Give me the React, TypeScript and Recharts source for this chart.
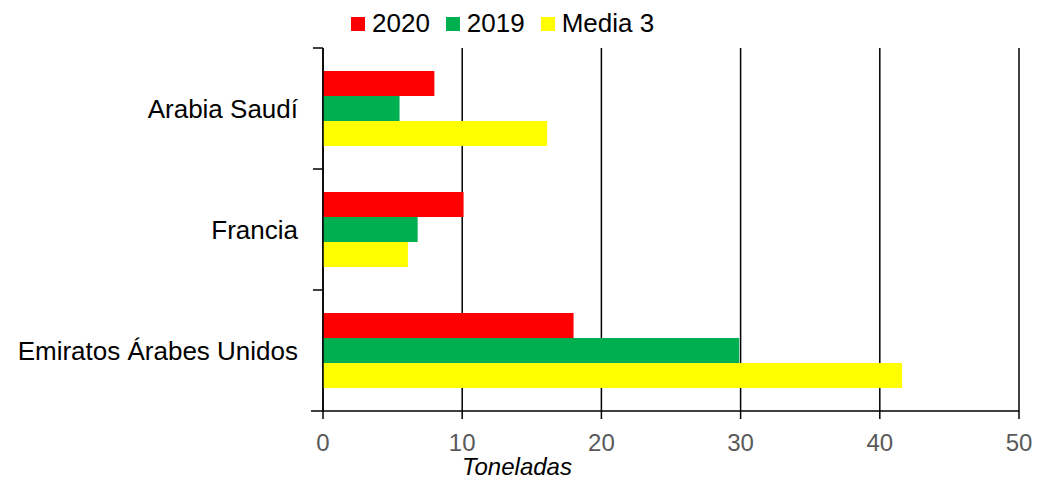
import React from 'react';
import { BarChart, Bar, XAxis, YAxis, CartesianGrid, Legend } from 'recharts';

const categories = ['Arabia Saudí', 'Francia', 'Emiratos Árabes Unidos'];
const values2020 = [8, 10.1, 18];
const values2019 = [5.5, 6.8, 29.9];
const valuesMedia3 = [16.1, 6.1, 41.6];
const xTicks = [0, 10, 20, 30, 40, 50];
const seriesNames = ['2020', '2019', 'Media 3'];
const seriesColors = ['#FF0000', '#00B050', '#FFFF00'];

const data = categories.map((c, i) => ({
  name: c,
  s2020: values2020[i],
  s2019: values2019[i],
  media3: valuesMedia3[i],
}));

const W = 1038;
const H = 479;
const MARGIN = { top: 48, right: 19, bottom: 0, left: 0 };
const Y_W = 323;
const X_H = 68;
const PLOT_H = H - MARGIN.top - MARGIN.bottom - X_H;
const BAND = PLOT_H / categories.length;
const FONT = '"Liberation Sans", Arial, sans-serif';

const YTick = (props: any) => {
  const { x, y, payload, index } = props;
  const axisX = Y_W + MARGIN.left;
  return (
    <g>
      <line x1={axisX - 10} x2={axisX} y1={y - BAND / 2} y2={y - BAND / 2} stroke="#000" strokeWidth={1.5} />
      {index === categories.length - 1 && (
        <line x1={axisX - 12} x2={axisX} y1={y + BAND / 2} y2={y + BAND / 2} stroke="#000" strokeWidth={1.5} />
      )}
      <text x={x} y={y} dy="0.35em" textAnchor="end" fill="#000" fontSize={26} fontFamily={FONT}>
        {payload.value}
      </text>
    </g>
  );
};

const LegendContent = () => (
  <div style={{ display: 'flex', alignItems: 'center', fontFamily: FONT, fontSize: 26, color: '#000', whiteSpace: 'nowrap' }}>
    {seriesNames.map((n, i) => (
      <div key={n} style={{ display: 'flex', alignItems: 'center', marginRight: 16 }}>
        <div style={{ width: 14, height: 14, background: seriesColors[i], marginRight: 7 }} />
        <span>{n}</span>
      </div>
    ))}
  </div>
);

const XLabel = (props: any) => {
  const { viewBox } = props;
  return (
    <text x={viewBox.x + 194} y={475} textAnchor="middle" fontStyle="italic" fontSize={24} fontFamily={FONT} fill="#000">
      Toneladas
    </text>
  );
};

export default function App() {
  return (
    <div style={{ position: 'absolute', left: 0, top: 0, width: W, height: H, background: '#fff' }}>
      <BarChart
        width={W}
        height={H}
        data={data}
        layout="vertical"
        margin={MARGIN}
        barGap={0}
        barCategoryGap="19%"
      >
        <CartesianGrid horizontal={false} vertical stroke="#000" strokeWidth={1.5} />
        <XAxis
          type="number"
          domain={[0, 50]}
          ticks={xTicks}
          height={X_H}
          interval={0}
          stroke="#000"
          strokeWidth={1.5}
          tickSize={8}
          tickMargin={15}
          tick={{ fill: '#595959', fontSize: 24, fontFamily: FONT }}
          label={<XLabel />}
        />
        <YAxis
          type="category"
          dataKey="name"
          width={Y_W}
          stroke="#000"
          strokeWidth={1.5}
          tickLine={false}
          tickSize={0}
          tickMargin={25}
          interval={0}
          tick={<YTick />}
        />
        <Legend
          layout="vertical"
          align="center"
          verticalAlign="top"
          content={<LegendContent />}
          wrapperStyle={{ top: 8, left: 351, width: 'auto', height: 0, overflow: 'visible' }}
        />
        <Bar dataKey="s2020" name={seriesNames[0]} fill={seriesColors[0]} barSize={25} isAnimationActive={false} />
        <Bar dataKey="s2019" name={seriesNames[1]} fill={seriesColors[1]} barSize={25} isAnimationActive={false} />
        <Bar dataKey="media3" name={seriesNames[2]} fill={seriesColors[2]} barSize={25} isAnimationActive={false} />
      </BarChart>
    </div>
  );
}
